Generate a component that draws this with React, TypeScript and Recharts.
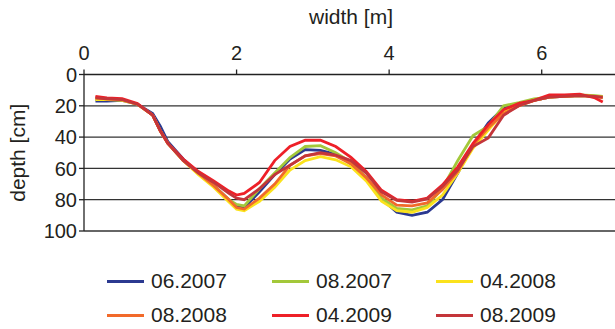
import { CartesianGrid, Legend, Line, LineChart, XAxis, YAxis } from 'recharts'

document.body.style.margin = '0'

// width positions [m] shared by all surveys
const widths = [0.15, 0.3, 0.5, 0.7, 0.9, 1.0, 1.1, 1.3, 1.5, 1.7, 1.9, 2.0, 2.1, 2.3, 2.5, 2.7, 2.9, 3.1, 3.3, 3.5, 3.7, 3.9, 4.1, 4.3, 4.5, 4.7, 4.9, 5.1, 5.3, 5.5, 5.7, 5.9, 6.1, 6.3, 6.5, 6.7, 6.8]

// depth [cm] per survey
const jun2007 = [17, 17, 16.5, 19, 25, 33, 43, 54, 63, 71, 80, 84, 85, 75, 64, 54, 48, 48.5, 51, 57, 66, 79.5, 88, 90, 88, 80, 63, 45, 31, 21.5, 18.5, 16.5, 14.5, 14, 13.5, 14, 14.5]
const aug2007 = [16, 16, 16, 19, 26, 36, 44, 55, 63, 71, 80, 83, 84, 73, 63, 53, 46, 45.5, 50, 56, 66, 79, 85.5, 86.5, 84, 72.5, 55, 39, 33, 20, 18, 15.5, 14.5, 13.5, 13, 13.5, 14]
const apr2008 = [16, 16, 16.5, 19, 26, 36, 44, 55, 64, 72, 81.5, 86, 87, 81, 72, 61, 55, 52.5, 54.5, 59, 68, 81, 87, 88, 85, 77, 63, 47, 35.5, 24, 20, 16.5, 14.5, 14, 13.5, 14, 14.5]
const aug2008 = [15, 15.5, 16, 19, 26, 36, 44, 55, 63, 71, 80, 85, 86, 79, 70, 58, 52, 50.5, 52, 57, 66, 77, 83.5, 84, 82, 73.5, 62, 45, 34, 25, 20, 16.5, 14.5, 14, 13.5, 14, 15]
const apr2009 = [14, 15, 15.5, 18.5, 26, 36, 44, 54, 62, 68, 74.5, 77, 76, 69, 55, 46, 42, 42, 46, 53, 62, 74, 80, 81, 79, 70.5, 59, 44, 32, 22.5, 18.5, 16.5, 13, 13, 12.5, 15, 17.5]
const aug2009 = [15, 15.5, 16, 19, 26, 36, 44, 55, 63, 69, 76, 79, 80, 73, 64, 58, 52, 50, 51.5, 55, 63, 75, 80.5, 81.5, 79.5, 71.5, 61, 46, 40.5, 26, 20, 16.5, 14.5, 14, 13.5, 14, 14.5]

const surveys = [
  { key: 's1', name: '06.2007', color: '#2B3990', values: jun2007 },
  { key: 's2', name: '08.2007', color: '#A3C83A', values: aug2007 },
  { key: 's3', name: '04.2008', color: '#FBE21C', values: apr2008 },
  { key: 's4', name: '08.2008', color: '#F26A2A', values: aug2008 },
  { key: 's5', name: '04.2009', color: '#EE2028', values: apr2009 },
  { key: 's6', name: '08.2009', color: '#C4353A', values: aug2009 },
]

const xTicks = [0, 2, 4, 6]
const yTicks = [0, 20, 40, 60, 80, 100]

const data = widths.map((w, i) => {
  const row: Record<string, number> = { width: w }
  surveys.forEach((s) => {
    row[s.key] = s.values[i]
  })
  return row
})

const font = '"Liberation Sans", Arial, sans-serif'

function LegendBox() {
  const cols = [107, 272, 436]
  return (
    <div style={{ position: 'relative', width: 615, height: 58, fontFamily: font }}>
      {surveys.map((s, i) => (
        <div
          key={s.key}
          style={{
            position: 'absolute',
            left: cols[i % 3],
            top: i < 3 ? 0 : 34,
            display: 'flex',
            alignItems: 'center',
            height: 24,
            lineHeight: '24px',
          }}
        >
          <div style={{ width: 37, height: 3, background: s.color }} />
          <span style={{ marginLeft: 7, fontSize: 21, color: '#231F20' }}>{s.name}</span>
        </div>
      ))}
    </div>
  )
}

export default function App() {
  return (
    <div style={{ width: 615, height: 329, overflow: 'hidden', position: 'relative', background: '#fff' }}>
      <LineChart
        width={618}
        height={329}
        data={data}
        margin={{ top: 0, right: 0, bottom: 98, left: 0 }}
        style={{ fontFamily: font }}
      >
        <CartesianGrid vertical={false} stroke="#333" strokeWidth={1.3} horizontalValues={[20, 40, 60, 80, 100]} />
        <XAxis
          dataKey="width"
          type="number"
          orientation="top"
          domain={[0, 7]}
          ticks={xTicks}
          height={74.5}
          stroke="#222"
          strokeWidth={1.3}
          tickSize={5}
          tickMargin={10}
          tick={{ fill: '#231F20', fontSize: 20 }}
          label={{ value: 'width [m]', position: 'insideTop', offset: 9, fill: '#231F20', fontSize: 21 }}
        />
        <YAxis
          type="number"
          reversed
          domain={[0, 100]}
          ticks={yTicks}
          width={84}
          stroke="#222"
          strokeWidth={1.3}
          tickSize={5}
          tick={{ fill: '#231F20', fontSize: 20 }}
          label={{ value: 'depth [cm]', angle: -90, position: 'insideLeft', offset: 18, fill: '#231F20', fontSize: 21, style: { textAnchor: 'middle' } }}
        />
        {surveys.map((s) => (
          <Line
            key={s.key}
            dataKey={s.key}
            name={s.name}
            type="linear"
            stroke={s.color}
            strokeWidth={2.8}
            dot={false}
            isAnimationActive={false}
          />
        ))}
        <Legend
          layout="horizontal"
          verticalAlign="middle"
          align="center"
          wrapperStyle={{ position: 'absolute', top: 269, left: 0, width: 615 }}
          content={() => <LegendBox />}
        />
      </LineChart>
    </div>
  )
}
